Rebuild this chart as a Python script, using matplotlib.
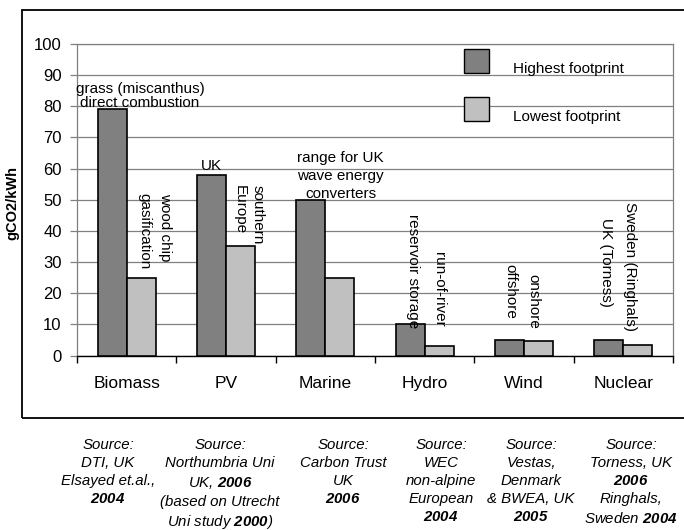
import matplotlib
matplotlib.use("Agg")
import matplotlib.pyplot as plt
from matplotlib.patches import Rectangle
import numpy as np

# ---------------- data ----------------
categories = ["Biomass", "PV", "Marine", "Hydro", "Wind", "Nuclear"]
highest = [79, 58, 50, 10, 5, 5]
lowest = [25, 35, 25, 3, 4.5, 3.5]
series_names = ["Highest footprint", "Lowest footprint"]
yticks = [0, 10, 20, 30, 40, 50, 60, 70, 80, 90, 100]
y_label = "gCO2/kWh"
sources = [
    "Source:\nDTI, UK\nElsayed et.al.,\n$\\mathbf{2004}$",
    "Source:\nNorthumbria Uni\nUK, $\\mathbf{2006}$\n(based on Utrecht\nUni study $\\mathbf{2000}$)",
    "Source:\nCarbon Trust\nUK\n$\\mathbf{2006}$",
    "Source:\nWEC\nnon-alpine\nEuropean\n$\\mathbf{2004}$",
    "Source:\nVestas,\nDenmark\n& BWEA, UK\n$\\mathbf{2005}$",
    "Source:\nTorness, UK\n$\\mathbf{2006}$\nRinghals,\nSweden $\\mathbf{2004}$",
]

# ---------------- style ----------------
plt.rcParams['font.family'] = ['Liberation Sans', 'DejaVu Sans']
plt.rcParams['mathtext.fontset'] = 'custom'
plt.rcParams['mathtext.bf'] = 'Liberation Sans:italic:bold'
plt.rcParams['mathtext.it'] = 'Liberation Sans:italic'
plt.rcParams['mathtext.rm'] = 'Liberation Sans:italic'

W, H = 684, 530
fig = plt.figure(figsize=(W / 100, H / 100), dpi=100)
fig.patch.set_facecolor('white')


def fx(px):
    return px / W


def fy(py):
    return 1 - py / H


# outer frame
frame = Rectangle((fx(22), fy(418)), fx(700) - fx(22), fy(10) - fy(418),
                  transform=fig.transFigure, fill=False, edgecolor='black',
                  linewidth=1.3, clip_on=False)
fig.patches.append(frame)

ax = fig.add_axes([fx(77), fy(355.5), fx(673) - fx(77), fy(44) - fy(355.5)])

dark = '#808080'
light = '#c0c0c0'
x = np.arange(len(categories))
w = 0.292
ax.bar(x - w / 2, highest, w, color=dark, edgecolor='black', linewidth=1.2, zorder=3)
ax.bar(x + w / 2, lowest, w, color=light, edgecolor='black', linewidth=1.2, zorder=3)

ax.set_xlim(-0.5, len(categories) - 0.5)
ax.set_ylim(0, 100)
ax.set_yticks(yticks)
ax.yaxis.grid(True, color='#808080', linewidth=0.9)
ax.set_axisbelow(True)
for s in ['top', 'right', 'left']:
    ax.spines[s].set_color('#808080')
    ax.spines[s].set_linewidth(0.9)
ax.spines['bottom'].set_color('black')
ax.spines['bottom'].set_linewidth(1.0)
ax.tick_params(axis='y', length=5, color='#808080', width=0.9, pad=6, labelsize=12)

ax.set_xticks(np.arange(-0.5, len(categories), 1))
ax.set_xticklabels([])
ax.tick_params(axis='x', which='major', length=5, color='black', width=1.0)
ax.set_xticks(x, minor=True)
ax.set_xticklabels(categories, minor=True)
ax.tick_params(axis='x', which='minor', length=0, pad=15, labelsize=12.5)

# annotations
fs = 11
ax.text(0.134, 83.2, "grass (miscanthus)\ndirect combustion", ha='center', va='center',
        fontsize=fs, linespacing=1.0, zorder=4)
ax.text(0.285, 52.3, "wood chip\ngasification", rotation=-90, rotation_mode='anchor',
        ha='left', va='center', fontsize=fs, linespacing=1.6, zorder=4)
ax.text(0.849, 60.9, "UK", ha='center', va='center', fontsize=fs, zorder=4)
ax.text(1.227, 54.8, "southern\nEurope", rotation=-90, rotation_mode='anchor',
        ha='left', va='center', fontsize=fs, linespacing=1.3, zorder=4)
ax.text(2.153, 57.7, "range for UK\nwave energy\nconverters", ha='center', va='center',
        fontsize=fs, linespacing=1.35, zorder=4)
ax.text(2.883, 8.8, "reservoir storage", rotation=-90, rotation_mode='anchor',
        ha='right', va='center', fontsize=fs, zorder=4)
ax.text(3.145, 9.2, "run-of-river", rotation=-90, rotation_mode='anchor',
        ha='right', va='center', fontsize=fs, zorder=4)
ax.text(3.859, 20.6, "offshore", rotation=-90, rotation_mode='anchor',
        ha='center', va='center', fontsize=fs, zorder=4)
ax.text(4.09, 17.5, "onshore", rotation=-90, rotation_mode='anchor',
        ha='center', va='center', fontsize=fs, zorder=4)
ax.text(4.826, 29.9, "UK (Torness)", rotation=-90, rotation_mode='anchor',
        ha='center', va='center', fontsize=fs, zorder=4)
ax.text(5.067, 28.6, "Sweden (Ringhals)", rotation=-90, rotation_mode='anchor',
        ha='center', va='center', fontsize=fs, zorder=4)

# legend (manual)
for i, (name, col) in enumerate(zip(series_names, [dark, light])):
    top = 49 + 48 * i
    fig.patches.append(Rectangle((fx(464), fy(top + 24)), fx(24.5), fy(0) - fy(24),
                                 transform=fig.transFigure, facecolor=col,
                                 edgecolor='black', linewidth=1.0, zorder=5))
    fig.text(fx(513), fy(69.5 + 48 * i), name, ha='left', va='center', fontsize=fs)

# y label
fig.text(fx(12), fy(203), y_label, rotation=90, ha='center', va='center',
         fontsize=10.5, fontweight='bold')

# sources
src_x = [108, 220, 343, 441, 531, 631]
for cx, s in zip(src_x, sources):
    fig.text(fx(cx), fy(438), s, ha='center', va='top', multialignment='center',
             fontsize=10.8, style='italic', linespacing=1.37)

fig.savefig("out.png", dpi=100)
